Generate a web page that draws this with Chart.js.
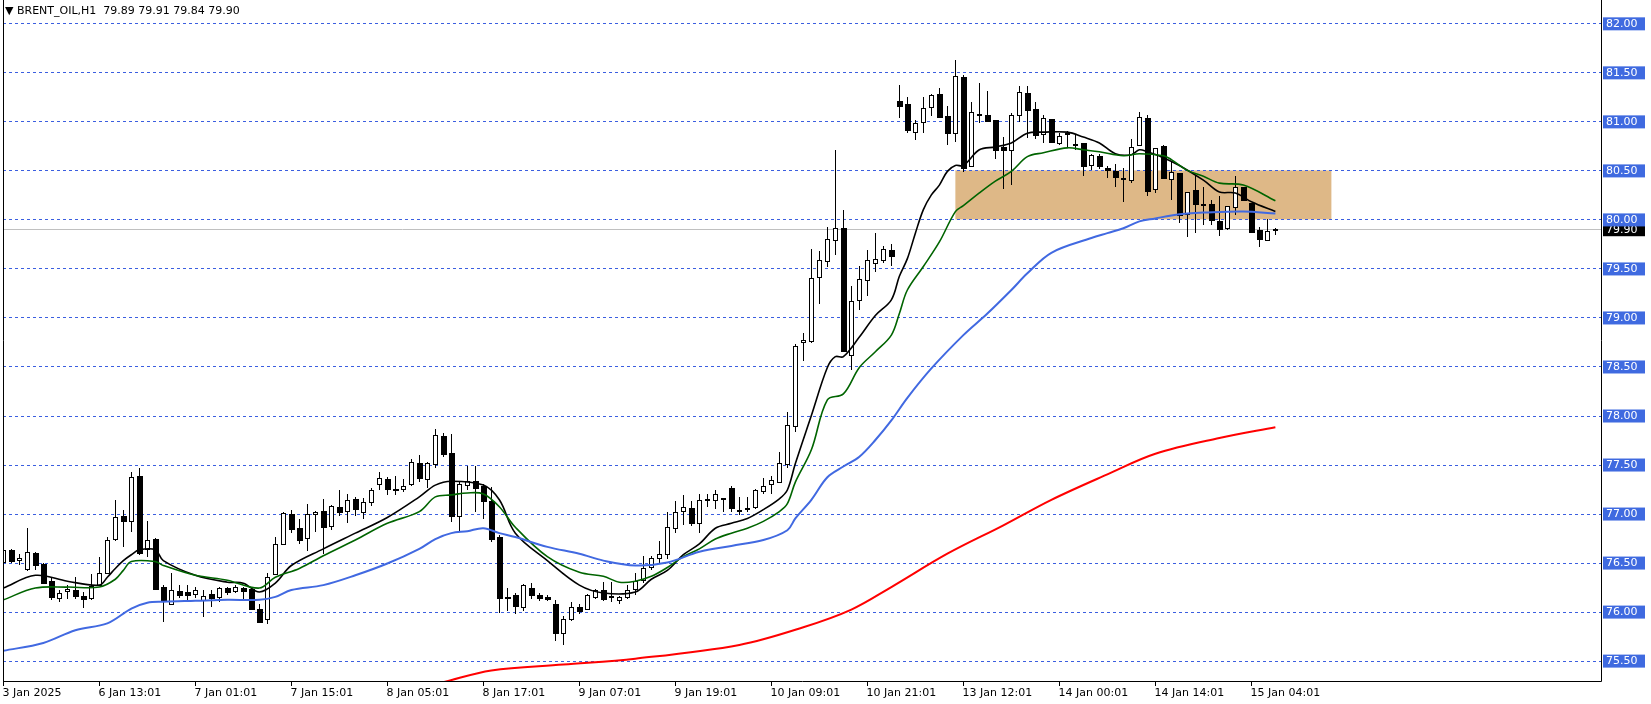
<!DOCTYPE html>
<html>
<head>
<meta charset="utf-8">
<script src="https://cdn.jsdelivr.net/npm/chart.js@4.4.1/dist/chart.umd.min.js"></script>
<style>
  html, body { margin: 0; padding: 0; background: #fff; }
  #wrap { width: 1651px; height: 704px; position: relative; }
</style>
</head>
<body>
<div id="wrap"><canvas id="chart" width="1651" height="704"></canvas></div>
<script>
// hourly candles, bar index = position in the arrays
const opens = [
  76.51, 76.63, 76.53, 76.43, 76.60, 76.49, 76.31, 76.14, 76.21, 76.22,
  76.16, 76.14, 76.27, 76.39, 76.74, 76.97, 76.92, 77.38, 76.64, 76.74,
  76.25, 76.08, 76.21, 76.20, 76.18, 76.12, 76.18, 76.15, 76.24, 76.21,
  76.24, 76.23, 76.03, 75.92, 76.38, 76.69, 77.00, 76.85, 76.75, 77.00,
  77.03, 76.87, 77.07, 77.03, 77.15, 77.02, 77.12, 77.30, 77.35, 77.25,
  77.25, 77.30, 77.52, 77.35, 77.51, 77.79, 77.62, 76.97, 77.29, 77.33,
  77.28, 77.13, 76.76, 76.15, 76.17, 76.05, 76.24, 76.17, 76.15, 76.08,
  75.78, 75.92, 76.05, 76.03, 76.15, 76.22, 76.15, 76.12, 76.15, 76.23,
  76.32, 76.45, 76.55, 76.59, 76.85, 77.03, 77.06, 76.90, 77.15, 77.14,
  77.16, 77.26, 77.04, 77.06, 77.07, 77.23, 77.30, 77.32, 77.51, 77.89,
  78.75, 78.76, 79.41, 79.58, 79.79, 79.91, 78.62, 79.18, 79.38, 79.56,
  79.59, 79.69, 81.21, 81.18, 80.89, 80.99, 81.15, 81.28, 81.05, 80.88,
  81.45, 80.54, 81.08, 81.07, 81.01, 80.74, 80.71, 81.07, 81.29, 81.13,
  80.87, 81.02, 80.78, 80.88, 80.77, 80.78, 80.55, 80.65, 80.52, 80.49,
  80.42, 80.40, 80.76, 81.03, 80.31, 80.75, 80.41, 80.47, 80.06, 80.30,
  80.16, 80.16, 79.98, 79.91, 80.13, 80.33, 80.17, 79.89, 79.79, 79.89,
];
const highs = [
  76.65, 76.64, 76.59, 76.85, 76.61, 76.50, 76.35, 76.22, 76.27, 76.35,
  76.20, 76.38, 76.56, 76.76, 77.14, 77.04, 77.42, 77.46, 76.92, 76.75,
  76.27, 76.39, 76.27, 76.27, 76.25, 76.22, 76.22, 76.25, 76.25, 76.27,
  76.25, 76.25, 76.08, 76.39, 76.76, 77.02, 77.04, 76.94, 77.10, 77.03,
  77.15, 77.09, 77.24, 77.20, 77.17, 77.16, 77.26, 77.42, 77.37, 77.38,
  77.35, 77.56, 77.60, 77.53, 77.86, 77.82, 77.81, 77.32, 77.48, 77.48,
  77.30, 77.27, 76.78, 76.24, 76.19, 76.28, 76.29, 76.19, 76.17, 76.12,
  75.95, 76.10, 76.08, 76.18, 76.23, 76.30, 76.30, 76.16, 76.27, 76.39,
  76.57, 76.57, 76.72, 77.02, 77.13, 77.19, 77.13, 77.20, 77.20, 77.24,
  77.16, 77.28, 77.17, 77.17, 77.25, 77.36, 77.38, 77.63, 78.04, 78.73,
  78.84, 79.70, 79.68, 79.92, 80.71, 80.10, 79.32, 79.52, 79.69, 79.86,
  79.73, 79.75, 81.37, 81.25, 81.01, 81.25, 81.28, 81.34, 81.16, 81.63,
  81.47, 81.20, 81.39, 81.31, 81.01, 80.84, 81.09, 81.36, 81.36, 81.20,
  81.06, 81.02, 80.88, 80.90, 80.86, 80.78, 80.67, 80.67, 80.54, 80.57,
  80.52, 80.82, 81.10, 81.06, 80.73, 80.76, 80.60, 80.47, 80.28, 80.44,
  80.33, 80.20, 80.24, 80.14, 80.44, 80.33, 80.17, 79.92, 80.00, 79.91,
];
const lows = [
  76.40, 76.50, 76.48, 76.41, 76.42, 76.28, 76.12, 76.10, 76.13, 76.13,
  76.04, 76.12, 76.26, 76.39, 76.72, 76.66, 76.81, 76.58, 76.56, 76.22,
  75.89, 76.08, 76.14, 76.12, 76.14, 75.94, 76.05, 76.10, 76.17, 76.19,
  76.13, 76.02, 75.88, 75.87, 76.38, 76.69, 76.80, 76.69, 76.62, 76.81,
  76.59, 76.83, 76.98, 76.90, 76.97, 76.94, 77.08, 77.24, 77.19, 77.19,
  77.22, 77.28, 77.32, 77.26, 77.46, 77.58, 76.91, 76.81, 77.24, 77.02,
  76.94, 76.71, 75.99, 76.01, 75.98, 76.01, 76.13, 76.11, 76.11, 75.70,
  75.66, 75.90, 75.98, 76.03, 76.13, 76.11, 76.10, 76.08, 76.13, 76.17,
  76.29, 76.42, 76.49, 76.54, 76.80, 76.88, 76.87, 76.80, 77.07, 77.05,
  77.02, 77.02, 76.99, 77.02, 77.05, 77.20, 77.20, 77.31, 77.46, 77.83,
  78.56, 78.74, 79.14, 79.51, 79.64, 78.66, 78.46, 79.08, 79.22, 79.46,
  79.56, 79.52, 81.03, 80.88, 80.81, 80.88, 81.05, 81.04, 80.76, 80.79,
  80.48, 80.54, 80.98, 81.00, 80.62, 80.31, 80.35, 80.99, 80.83, 80.82,
  80.78, 80.78, 80.76, 80.74, 80.71, 80.44, 80.50, 80.51, 80.42, 80.33,
  80.18, 80.37, 80.76, 80.24, 80.27, 80.42, 80.20, 79.96, 79.82, 79.86,
  79.94, 79.94, 79.83, 79.89, 80.04, 80.20, 79.87, 79.72, 79.78, 79.84,
];
const closes = [
  76.63, 76.52, 76.55, 76.61, 76.48, 76.29, 76.15, 76.19, 76.23, 76.16,
  76.13, 76.26, 76.39, 76.73, 76.96, 76.92, 77.37, 76.60, 76.73, 76.23,
  76.11, 76.22, 76.17, 76.17, 76.22, 76.16, 76.14, 76.24, 76.20, 76.25,
  76.21, 76.03, 75.89, 76.35, 76.69, 77.01, 76.84, 76.73, 77.00, 77.02,
  76.86, 77.08, 77.02, 77.14, 77.05, 77.12, 77.24, 77.36, 77.25, 77.24,
  77.28, 77.53, 77.36, 77.52, 77.80, 77.61, 76.98, 77.30, 77.33, 77.26,
  77.13, 76.74, 76.14, 76.14, 76.06, 76.27, 76.17, 76.14, 76.13, 75.78,
  75.92, 76.05, 76.01, 76.17, 76.22, 76.13, 76.16, 76.15, 76.22, 76.31,
  76.44, 76.55, 76.59, 76.86, 77.02, 77.07, 76.90, 77.14, 77.15, 77.20,
  77.16, 77.06, 77.04, 77.06, 77.24, 77.28, 77.34, 77.52, 77.90, 78.71,
  78.77, 79.40, 79.59, 79.80, 79.91, 78.66, 79.17, 79.39, 79.59, 79.60,
  79.70, 79.63, 81.16, 80.91, 80.98, 81.14, 81.27, 81.04, 80.88, 81.46,
  80.52, 81.10, 81.08, 81.00, 80.71, 80.71, 81.06, 81.30, 81.12, 80.86,
  81.03, 80.79, 80.85, 80.88, 80.77, 80.54, 80.66, 80.54, 80.50, 80.43,
  80.42, 80.74, 81.04, 80.29, 80.73, 80.42, 80.48, 80.04, 80.28, 80.16,
  80.16, 79.99, 79.90, 80.14, 80.33, 80.20, 79.87, 79.80, 79.88, 79.90,
];

// moving averages: bar index -> value
const fastIdx = [0, 4, 8, 12, 13, 14, 15, 16, 17, 19, 20, 24, 28, 30, 32, 34, 36, 40, 44, 48, 52, 54, 56, 60, 62, 64, 68, 72, 75, 79, 81, 83, 85, 87, 89, 91, 93, 95, 97, 98, 99, 101, 103, 104, 105, 107, 109, 111, 112, 113, 114, 115, 116, 117, 118, 119, 120, 122, 124, 126, 128, 130, 133, 135, 137, 139, 141, 142, 143, 145, 147, 150, 152, 154, 156, 159];
const fastVal = [76.24, 76.37, 76.31, 76.27, 76.35, 76.44, 76.52, 76.58, 76.63, 76.63, 76.52, 76.37, 76.30, 76.29, 76.20, 76.29, 76.47, 76.64, 76.80, 76.96, 77.17, 77.29, 77.33, 77.29, 77.14, 76.80, 76.52, 76.27, 76.19, 76.20, 76.33, 76.42, 76.58, 76.69, 76.85, 76.90, 76.95, 77.04, 77.15, 77.24, 77.51, 78.00, 78.49, 78.60, 78.60, 78.80, 79.02, 79.18, 79.42, 79.60, 79.86, 80.10, 80.25, 80.35, 80.49, 80.55, 80.55, 80.71, 80.74, 80.78, 80.88, 80.89, 80.89, 80.84, 80.78, 80.67, 80.66, 80.71, 80.69, 80.63, 80.55, 80.40, 80.28, 80.27, 80.18, 80.08];

const midIdx = [0, 4, 8, 12, 14, 15, 16, 19, 20, 24, 28, 32, 34, 37, 40, 44, 48, 52, 54, 56, 58, 60, 62, 64, 68, 72, 75, 77, 79, 81, 83, 85, 87, 89, 91, 93, 95, 97, 98, 99, 101, 103, 105, 107, 109, 111, 112, 113, 115, 117, 119, 120, 122, 124, 126, 128, 130, 133, 135, 137, 140, 142, 145, 146, 148, 150, 152, 155, 159];
const midVal = [76.12, 76.24, 76.25, 76.25, 76.33, 76.42, 76.51, 76.51, 76.47, 76.37, 76.32, 76.24, 76.35, 76.44, 76.57, 76.73, 76.90, 77.02, 77.17, 77.19, 77.21, 77.20, 77.07, 76.86, 76.56, 76.40, 76.36, 76.30, 76.31, 76.36, 76.45, 76.56, 76.64, 76.74, 76.80, 76.85, 76.92, 77.02, 77.10, 77.32, 77.65, 78.16, 78.22, 78.49, 78.65, 78.82, 79.04, 79.28, 79.52, 79.77, 80.08, 80.14, 80.27, 80.39, 80.49, 80.64, 80.68, 80.73, 80.71, 80.69, 80.65, 80.67, 80.65, 80.61, 80.50, 80.44, 80.37, 80.35, 80.19];

const slowIdx = [0, 5, 9, 13, 16, 18, 20, 24, 28, 32, 34, 36, 40, 44, 48, 52, 54, 56, 58, 60, 62, 64, 68, 72, 75, 79, 83, 87, 91, 95, 98, 99, 101, 103, 105, 107, 109, 111, 113, 116, 120, 123, 126, 128, 131, 136, 138, 140, 142, 144, 146, 148, 150, 155, 159];
const slowVal = [75.60, 75.68, 75.81, 75.88, 76.03, 76.09, 76.10, 76.11, 76.12, 76.12, 76.15, 76.22, 76.27, 76.37, 76.49, 76.64, 76.74, 76.80, 76.82, 76.85, 76.80, 76.76, 76.66, 76.59, 76.52, 76.47, 76.50, 76.61, 76.67, 76.73, 76.83, 76.95, 77.14, 77.37, 77.48, 77.58, 77.75, 77.95, 78.18, 78.48, 78.82, 79.04, 79.28, 79.45, 79.66, 79.81, 79.86, 79.91, 79.98, 80.01, 80.04, 80.06, 80.07, 80.08, 80.06];

const longIdx = [55, 61, 70, 79, 92, 100, 106, 111, 118, 125, 131, 138, 144, 152, 159];
const longVal = [75.28, 75.40, 75.46, 75.52, 75.66, 75.84, 76.02, 76.25, 76.59, 76.88, 77.14, 77.40, 77.61, 77.77, 77.88];

const priceLevels = [82.0, 81.5, 81.0, 80.5, 80.0, 79.5, 79.0, 78.5, 78.0, 77.5, 77.0, 76.5, 76.0, 75.5];
const timeLabels = [
  "3 Jan 2025", "6 Jan 13:01", "7 Jan 01:01", "7 Jan 15:01", "8 Jan 05:01",
  "8 Jan 17:01", "9 Jan 07:01", "9 Jan 19:01", "10 Jan 09:01", "10 Jan 21:01",
  "13 Jan 12:01", "14 Jan 00:01", "14 Jan 14:01", "15 Jan 04:01",
];
const labelEvery = 12;
const lastPrice = 79.90;
const zone = { from: 119, to: 166, low: 80.0, high: 80.5 };

const FONT = '11px "DejaVu Sans", sans-serif';
const gridBlue = "#3b5fe0";

function pairs(idx, val) {
  return idx.map((x, i) => ({ x, y: val[i] }));
}

function maSet(idx, val, color, width) {
  return {
    data: pairs(idx, val),
    borderColor: color,
    borderWidth: width,
    pointRadius: 0,
    tension: 0.35,
    fill: false,
    clip: true,
  };
}

const backdrop = {
  id: "backdrop",
  beforeDatasetsDraw(chart) {
    const { ctx, chartArea: a, scales: { x, y } } = chart;
    ctx.save();
    ctx.beginPath();
    ctx.rect(a.left, a.top, a.right - a.left, a.bottom - a.top);
    ctx.clip();

    // zone rectangle
    ctx.fillStyle = "#deb887";
    const zx0 = x.getPixelForValue(zone.from), zx1 = x.getPixelForValue(zone.to);
    const zy0 = y.getPixelForValue(zone.high), zy1 = y.getPixelForValue(zone.low);
    ctx.fillRect(zx0, zy0, zx1 - zx0, zy1 - zy0);

    // dashed level lines
    ctx.strokeStyle = gridBlue;
    ctx.lineWidth = 1;
    ctx.setLineDash([3, 3]);
    priceLevels.forEach((p) => {
      const py = Math.round(y.getPixelForValue(p)) + 0.5;
      ctx.beginPath();
      ctx.moveTo(a.left, py);
      ctx.lineTo(a.right, py);
      ctx.stroke();
    });
    ctx.setLineDash([]);

    // last price line
    ctx.strokeStyle = "#c0c0c0";
    const ly = Math.round(y.getPixelForValue(lastPrice)) + 0.5;
    ctx.beginPath();
    ctx.moveTo(a.left, ly);
    ctx.lineTo(a.right, ly);
    ctx.stroke();

    // candles
    ctx.strokeStyle = "#000";
    opens.forEach((o, i) => {
      const c = closes[i];
      const cx = Math.round(x.getPixelForValue(i)) + 0.5;
      const yh = Math.round(y.getPixelForValue(highs[i]));
      const yl = Math.round(y.getPixelForValue(lows[i]));
      ctx.beginPath();
      ctx.moveTo(cx, yh);
      ctx.lineTo(cx, yl);
      ctx.stroke();
      let top = Math.round(y.getPixelForValue(Math.max(o, c)));
      let bot = Math.round(y.getPixelForValue(Math.min(o, c)));
      if (bot - top < 1) bot = top + 1;
      if (c >= o) {
        ctx.fillStyle = "#fff";
        ctx.fillRect(cx - 2.5, top + 0.5, 5, bot - top);
        ctx.strokeRect(cx - 2, top + 0.5, 4, bot - top);
      } else {
        ctx.fillStyle = "#000";
        ctx.fillRect(cx - 2.5, top, 6, bot - top + 1);
      }
    });
    ctx.restore();
  },
  afterDraw(chart) {
    const { ctx, chartArea: a, scales: { x, y } } = chart;
    ctx.save();
    ctx.strokeStyle = "#000";
    ctx.lineWidth = 1;
    ctx.beginPath();
    ctx.moveTo(a.left + 0.5, a.top);
    ctx.lineTo(a.left + 0.5, a.bottom + 0.5);
    ctx.lineTo(a.right + 0.5, a.bottom + 0.5);
    ctx.lineTo(a.right + 0.5, a.top);
    ctx.stroke();

    // time axis
    ctx.font = FONT;
    ctx.fillStyle = "#000";
    ctx.textBaseline = "middle";
    ctx.textAlign = "left";
    timeLabels.forEach((t, k) => {
      const tx = Math.round(x.getPixelForValue(k * labelEvery)) + 0.5;
      ctx.beginPath();
      ctx.moveTo(tx, a.bottom);
      ctx.lineTo(tx, a.bottom + 5);
      ctx.stroke();
      ctx.fillText(t, tx - 1, a.bottom + 12);
    });

    // last price box
    const ly = y.getPixelForValue(lastPrice);
    ctx.fillStyle = "#000";
    ctx.fillRect(a.right + 2, ly - 6, 42, 13);
    ctx.fillStyle = "#fff";
    ctx.fillText(lastPrice.toFixed(2), a.right + 5, ly + 1);

    // level boxes
    priceLevels.forEach((p) => {
      const py = y.getPixelForValue(p);
      ctx.fillStyle = "#3f6ae0";
      ctx.fillRect(a.right + 2, py - 6, 42, 13);
      ctx.fillStyle = "#fff";
      ctx.fillText(p.toFixed(2), a.right + 5, py + 1);
    });

    // header
    ctx.fillStyle = "#000";
    ctx.font = FONT;
    ctx.fillText("\u25BC BRENT_OIL,H1  79.89 79.91 79.84 79.90", 5, 11);
    ctx.restore();
  },
};

new Chart(document.getElementById("chart"), {
  type: "line",
  data: {
    datasets: [
      maSet(longIdx, longVal, "#ff0000", 2),
      maSet(slowIdx, slowVal, "#4169e1", 2),
      maSet(midIdx, midVal, "#006400", 1.6),
      maSet(fastIdx, fastVal, "#000000", 1.6),
    ],
  },
  options: {
    responsive: false,
    animation: false,
    events: [],
    layout: { padding: { left: 3, right: 50, top: 0, bottom: 23 } },
    plugins: { legend: { display: false }, tooltip: { enabled: false } },
    scales: {
      x: { type: "linear", min: -0.04, max: 199.7, display: false },
      y: { type: "linear", min: 75.292, max: 82.238, display: false },
    },
  },
  plugins: [backdrop],
});
</script>
</body>
</html>
